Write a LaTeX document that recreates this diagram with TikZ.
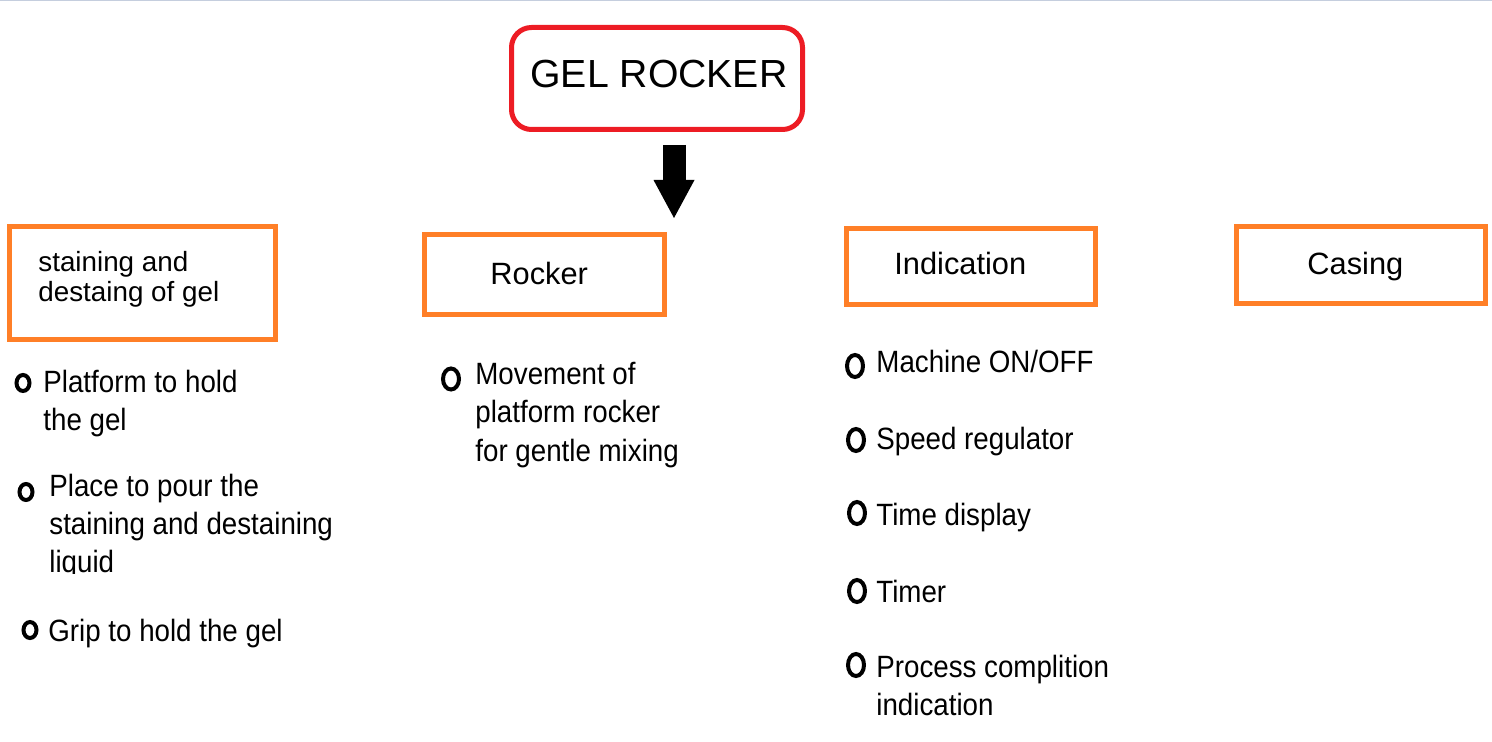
\documentclass[tikz,border=0pt]{standalone}
\usepackage{fontspec}
\setmainfont{Liberation Sans}
\newfontfamily\itemfont[FakeStretch=0.9]{Liberation Sans}
\usetikzlibrary{arrows.meta,shapes.geometric}
\definecolor{boxorange}{RGB}{255,127,39}
\definecolor{boxred}{RGB}{237,28,36}
\definecolor{topline}{RGB}{197,206,222}
\begin{document}
\begin{tikzpicture}[x=0.5pt,y=-0.5pt,
	part/.style={draw=boxorange,line width=2.5pt,inner sep=0pt},
	partlabel/.style={anchor=base west,inner sep=0pt,font=\fontsize{15.4}{18}\selectfont},
	ring/.style={ellipse,draw,line width=2pt,inner sep=0pt,minimum width=6.5pt,minimum height=8pt},
	bigring/.style={ring,minimum width=8pt,minimum height=11pt},
	point/.style={anchor=base west,inner sep=0pt,align=left,font=\itemfont\fontsize{15.4}{19}\selectfont}]

		\useasboundingbox (0,0) rectangle (1492,742);
		\draw [topline] (0,0.5) -- (1492,0.5);

		\node (gel) at (657,78.5) [draw=boxred,line width=2.5pt,rounded corners=10pt,
		minimum width=145.5pt,minimum height=51pt] {};
		\node (gellabel) at (530,88) [anchor=base west,inner sep=0pt,font=\fontsize{19.6}{22}\selectfont] {GEL ROCKER};

		\coordinate (tail) at (674,145);
		\coordinate (tip) at (674,218);
		\draw [line width=11.5pt,-{Triangle[width=20.5pt,length=19pt,line width=0pt]}] (tail) -- (tip);

		% base of a multi-line node = its last line
		\node (stain) at (142.5,283) [part,minimum width=133pt,minimum height=56.5pt] {};
		\node (stainlabel) at (38,302) [partlabel,align=left,font=\fontsize{13.9}{15}\selectfont] {staining and\\destaing of gel};
		\node (rocker) at (544.5,274.5) [part,minimum width=120pt,minimum height=40pt] {};
		\node (rockerlabel) at (490,285) [partlabel] {Rocker};
		\node (indication) at (971,266.5) [part,minimum width=124.5pt,minimum height=38pt] {};
		\node (indicationlabel) at (894,275) [partlabel] {Indication};
		\node (casing) at (1361,265) [part,minimum width=124.5pt,minimum height=38.5pt] {};
		\node (casinglabel) at (1307,275) [partlabel] {Casing};

		\node (s1) at (23,383) [ring] {};
		\node (s1text) at (43,430) [point] {Platform to hold\\the gel};
		\node (s2) at (26,492) [ring] {};
		\begin{scope}
			\clip (0,0) rectangle (400,573);
			\node (s2text) at (49,572) [point] {Place to pour the\\staining and destaining\\liquid};
		\end{scope}
		\node (s3) at (30,630) [ring] {};
		\node (s3text) at (48,641) [point] {Grip to hold the gel};

		\node (r1) at (451,379) [ring,minimum width=8pt,minimum height=10.5pt] {};
		\node (r1text) at (475,461) [point] {Movement of\\platform rocker\\for gentle mixing};

		\node (i1) at (855,366) [bigring] {};
		\node (i1text) at (876,373) [point] {Machine ON/OFF};
		\node (i2) at (856,440) [bigring] {};
		\node (i2text) at (876,450) [point] {Speed regulator};
		\node (i3) at (857,513) [bigring] {};
		\node (i3text) at (876,525) [point] {Time display};
		\node (i4) at (857,591) [bigring] {};
		\node (i4text) at (876,602) [point] {Timer};
		\node (i5) at (856,665) [bigring] {};
		\node (i5text) at (876,715) [point] {Process complition\\indication};

		\end{tikzpicture}
\end{document}
